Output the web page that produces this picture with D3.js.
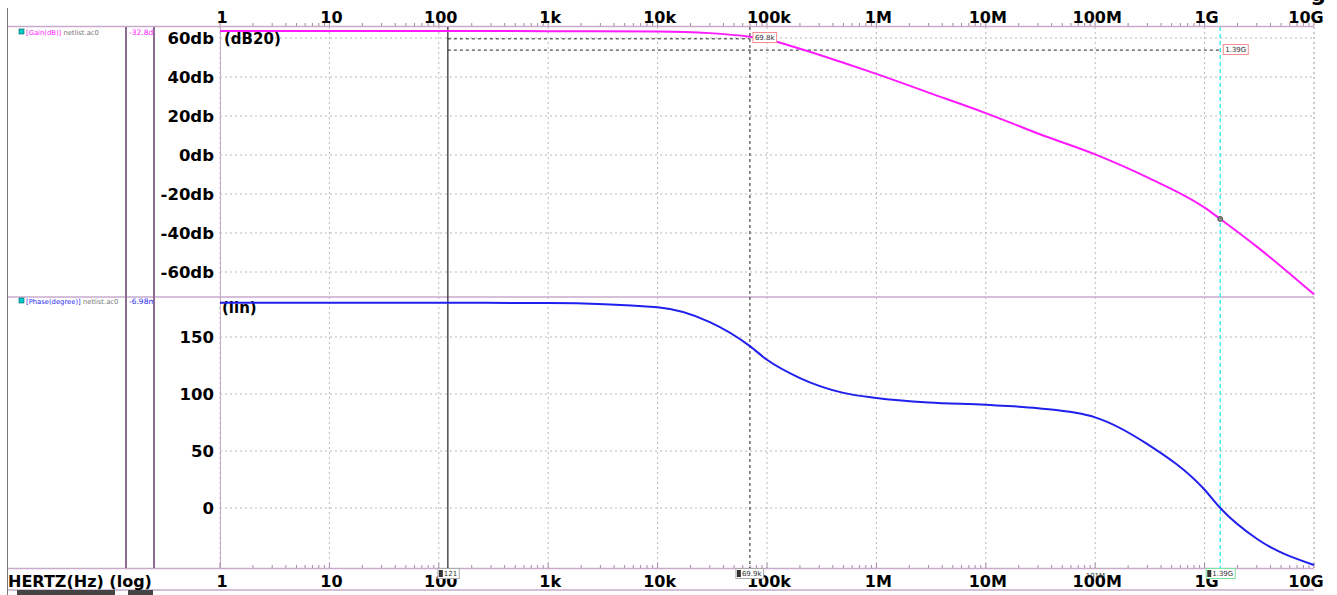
<!DOCTYPE html>
<html>
<head>
<meta charset="utf-8">
<script src="https://cdn.jsdelivr.net/npm/d3@7"></script>
<style>
  html, body { margin: 0; padding: 0; background: #fff; }
  svg { display: block; }
  text { font-family: "DejaVu Sans", sans-serif; }
</style>
</head>
<body>
<svg id="chart" width="1337" height="595"></svg>
<script>
// AC sweep of the amplifier: frequency (Hz), gain (dB) and phase (degrees)
const freqs   = [1, 10, 100, 1e3, 1e4, 3e4, 6.98e4, 1e5, 2e5, 5e5, 1e6, 3e6, 1e7, 3e7, 1e8, 3e8, 1e9, 1.39e9, 3e9, 1e10];
const gainDb  = [63.6, 63.6, 63.6, 63.5, 63.3, 62.5, 60.6, 59.2, 54.5, 47.3, 41.6, 32.0, 21.5, 11.0, 0.3, -11.5, -27.0, -32.8, -47.0, -71.5];
const phaseDeg = [180, 180, 180, 179.8, 176, 163, 142, 130, 114, 101, 96.5, 92.5, 90.5, 87.5, 79.5, 56, 16, 0, -27, -50];

// axis ticks
const decadeTicks = [1, 10, 100, 1e3, 1e4, 1e5, 1e6, 1e7, 1e8, 1e9, 1e10];
const decadeLabels = ["1", "10", "100", "1k", "10k", "100k", "1M", "10M", "100M", "1G", "10G"];
const gainTicks = [60, 40, 20, 0, -20, -40, -60];
const gainTickLabels = ["60db", "40db", "20db", "0db", "-20db", "-40db", "-60db"];
const phaseTicks = [150, 100, 50, 0];
const phaseTickLabels = ["150", "100", "50", "0"];

// cursors / markers
const cursorA = 121;          // solid cursor
const cursorB = 6.98e4;       // -3 dB cursor
const cursorC = 1.39e9;       // phase zero crossing
const refLevelC = 53.8;       // reference level line (dB)
const cursorLabels = { aBottom: "121", bTop: "69.8k", bBottom: "69.9k", cTop: "1.39G", cBottom: "1.39G", mid: "101M" };
const readoutGain = "-32.8d";
const readoutPhase = "-6.98m";

const svg = d3.select("#chart");
const W = 1337, H = 595;
const plotL = 220, plotR = 1314;
const topT = 27, topB = 297, botT = 297, botB = 568;

const x = d3.scaleLog().domain([1, 1e10]).range([plotL, plotR]);
const yGain = d3.scaleLinear().domain([0, 20]).range([155, 116]);
const yPhase = d3.scaleLinear().domain([0, 50]).range([508, 451]);

const frame = "#c9aacb";
const colLine = "#8e6b93";
const gridCol = "#b8b8b8";
const magenta = "#ff1aff";
const blue = "#1f1fee";

// clip regions for the two panels
const defs = svg.append("defs");
defs.append("clipPath").attr("id", "clipTop").append("rect")
  .attr("x", plotL).attr("y", topT).attr("width", plotR - plotL + 2).attr("height", topB - topT);
defs.append("clipPath").attr("id", "clipBot").append("rect")
  .attr("x", plotL).attr("y", botT).attr("width", plotR - plotL + 2).attr("height", botB - botT + 2);
defs.append("clipPath").attr("id", "clipVal").append("rect")
  .attr("x", 128).attr("y", 0).attr("width", 25).attr("height", H);
defs.append("clipPath").attr("id", "clipLeg").append("rect")
  .attr("x", 8).attr("y", 0).attr("width", 117).attr("height", H);

// grid: vertical decade lines
const gGrid = svg.append("g");
decadeTicks.forEach(f => {
  gGrid.append("line")
    .attr("x1", x(f)).attr("x2", x(f)).attr("y1", topT).attr("y2", botB)
    .attr("stroke", f === 1e10 ? "#999" : gridCol).attr("stroke-width", 1)
    .attr("stroke-dasharray", "2,3");
});
gainTicks.forEach(v => {
  gGrid.append("line")
    .attr("x1", plotL).attr("x2", plotR).attr("y1", yGain(v)).attr("y2", yGain(v))
    .attr("stroke", gridCol).attr("stroke-dasharray", "2,3");
});
phaseTicks.forEach(v => {
  gGrid.append("line")
    .attr("x1", plotL).attr("x2", plotR).attr("y1", yPhase(v)).attr("y2", yPhase(v))
    .attr("stroke", gridCol).attr("stroke-dasharray", "2,3");
});

// frame lines
const hl = (y, x1, x2, c, w) => svg.append("line").attr("x1", x1).attr("x2", x2).attr("y1", y).attr("y2", y).attr("stroke", c).attr("stroke-width", w || 1);
const vl = (xx, y1, y2, c, w) => svg.append("line").attr("x1", xx).attr("x2", xx).attr("y1", y1).attr("y2", y2).attr("stroke", c).attr("stroke-width", w || 1);
hl(26.5, 7, plotR, frame, 1.5);
hl(297, 7, plotR, frame, 1.5);
hl(568.5, 7, plotR, frame, 1.5);
hl(590, 7, plotR, frame, 1.5);
vl(7.5, 8, 595, "#777", 1);
vl(126, 27, 568, colLine, 2);
vl(154, 27, 568, colLine, 2);
vl(plotL + 0.5, 27, 568, frame, 1);

// minor ticks on the frequency axes
const minorG = svg.append("g");
for (let d = 0; d < 10; d++) {
  for (let m = 1; m <= 9; m++) {
    const f = m * Math.pow(10, d);
    const len = m === 1 ? 5 : 3;
    minorG.append("line").attr("x1", x(f)).attr("x2", x(f)).attr("y1", 26).attr("y2", 26 - len).attr("stroke", "#a58aa8");
    minorG.append("line").attr("x1", x(f)).attr("x2", x(f)).attr("y1", 568).attr("y2", 568 - len).attr("stroke", "#a58aa8");
  }
}
minorG.append("line").attr("x1", x(1e10)).attr("x2", x(1e10)).attr("y1", 26).attr("y2", 21).attr("stroke", "#a58aa8");
minorG.append("line").attr("x1", x(1e10)).attr("x2", x(1e10)).attr("y1", 568).attr("y2", 563).attr("stroke", "#a58aa8");

// frequency labels, top and bottom
decadeTicks.forEach((f, i) => {
  const lx = i === decadeTicks.length - 1 ? x(f) - 8 : x(f) + 2;
  svg.append("text").attr("x", lx).attr("y", 23).attr("text-anchor", "middle")
    .attr("font-size", 16).attr("font-weight", "bold").text(decadeLabels[i]);
  svg.append("text").attr("x", lx).attr("y", 587).attr("text-anchor", "middle")
    .attr("font-size", 16).attr("font-weight", "bold").text(decadeLabels[i]);
});
svg.append("text").attr("x", 8).attr("y", 587).attr("font-size", 16).attr("font-weight", "bold").text("HERTZ(Hz) (log)");

// y labels
gainTicks.forEach((v, i) => {
  svg.append("text").attr("x", 214).attr("y", yGain(v) + 6).attr("text-anchor", "end")
    .attr("font-size", 16.5).attr("font-weight", "bold").text(gainTickLabels[i]);
});
phaseTicks.forEach((v, i) => {
  svg.append("text").attr("x", 214).attr("y", yPhase(v) + 6).attr("text-anchor", "end")
    .attr("font-size", 16.5).attr("font-weight", "bold").text(phaseTickLabels[i]);
});
svg.append("text").attr("x", 224).attr("y", 44).attr("font-size", 15).attr("font-weight", "bold").text("(dB20)");
svg.append("text").attr("x", 222).attr("y", 313).attr("font-size", 15).attr("font-weight", "bold").text("(lin)");

// legend column
const legend = (y, name, color) => {
  svg.append("rect").attr("x", 19).attr("y", y - 6).attr("width", 5).attr("height", 5).attr("fill", "#0cc").attr("stroke", "#055").attr("stroke-width", 0.6);
  const t = svg.append("text").attr("x", 26).attr("y", y).attr("font-size", 6.8).attr("clip-path", "url(#clipLeg)");
  t.append("tspan").attr("fill", color).text(name);
  t.append("tspan").attr("fill", "#777").text(" netlist.ac0");
};
legend(35, "[Gain(dB)]", magenta);
legend(304, "[Phase(degree)]", blue);
svg.append("text").attr("x", 129).attr("y", 35).attr("font-size", 7.5).attr("fill", magenta).attr("clip-path", "url(#clipVal)").text(readoutGain);
svg.append("text").attr("x", 129).attr("y", 304).attr("font-size", 7.5).attr("fill", blue).attr("clip-path", "url(#clipVal)").text(readoutPhase);

// cursors
vl(x(cursorA), 27, 568, "#222", 1.2);
svg.append("line").attr("x1", x(cursorB)).attr("x2", x(cursorB)).attr("y1", 27).attr("y2", 568)
  .attr("stroke", "#222").attr("stroke-dasharray", "3,3");
svg.append("line").attr("x1", x(cursorC)).attr("x2", x(cursorC)).attr("y1", 27).attr("y2", 568)
  .attr("stroke", "#3ff0f0").attr("stroke-width", 1.5).attr("stroke-dasharray", "4,3");
svg.append("line").attr("x1", x(cursorA)).attr("x2", x(cursorB)).attr("y1", yGain(gainDb[6]) + 2).attr("y2", yGain(gainDb[6]) + 2)
  .attr("stroke", "#222").attr("stroke-dasharray", "3,3");
svg.append("line").attr("x1", x(cursorA)).attr("x2", x(cursorC)).attr("y1", yGain(refLevelC)).attr("y2", yGain(refLevelC))
  .attr("stroke", "#222").attr("stroke-dasharray", "3,3");

// curves
const gainLine = d3.line().x((d, i) => x(freqs[i])).y(d => yGain(d)).curve(d3.curveMonotoneX);
const phaseLine = d3.line().x((d, i) => x(freqs[i])).y(d => yPhase(d)).curve(d3.curveMonotoneX);
svg.append("path").attr("d", gainLine(gainDb)).attr("fill", "none").attr("stroke", magenta).attr("stroke-width", 2).attr("clip-path", "url(#clipTop)");
svg.append("path").attr("d", phaseLine(phaseDeg)).attr("fill", "none").attr("stroke", blue).attr("stroke-width", 2).attr("clip-path", "url(#clipBot)");

// point marker on gain curve at cursor C
svg.append("circle").attr("cx", x(cursorC)).attr("cy", yGain(gainDb[17])).attr("r", 2.5)
  .attr("fill", "#888").attr("stroke", "#444").attr("stroke-width", 0.8);

// cursor tags
const tag = (tx, ty, label, border, icon) => {
  const g = svg.append("g");
  const t = g.append("text").attr("x", tx + (icon ? 6 : 2)).attr("y", ty).attr("font-size", 7).attr("fill", "#333").text(label);
  const w = t.node().getComputedTextLength() + (icon ? 8 : 4);
  g.insert("rect", "text").attr("x", tx).attr("y", ty - 7.5).attr("width", w).attr("height", 10)
    .attr("fill", "#fff").attr("stroke", border).attr("stroke-width", 1);
  if (icon) g.append("rect").attr("x", tx + 1).attr("y", ty - 6).attr("width", 4).attr("height", 7).attr("fill", "#333");
};
tag(x(cursorB) + 3, 40, cursorLabels.bTop, "#f09090", false);
tag(x(cursorC) + 3, 52, cursorLabels.cTop, "#f09090", false);
tag(x(cursorA) - 10, 576, cursorLabels.aBottom, "#aaa", true);
tag(x(cursorB) - 14, 576, cursorLabels.bBottom, "#aaa", true);
tag(x(cursorC) - 14, 576, cursorLabels.cBottom, "#7fe0a0", true);
svg.append("text").attr("x", x(1.01e8) - 10).attr("y", 578).attr("font-size", 7).attr("fill", "#333").text(cursorLabels.mid);

// title fragment at the upper edge
svg.append("text").attr("x", 1318).attr("y", 1).attr("text-anchor", "middle").attr("font-size", 22)
  .attr("font-weight", "bold").attr("font-family", "DejaVu Serif, serif").text("g");

// scrollbars
svg.append("rect").attr("x", 17).attr("y", 590).attr("width", 98).attr("height", 5).attr("fill", "#444");
svg.append("rect").attr("x", 128).attr("y", 590).attr("width", 25).attr("height", 5).attr("fill", "#444");
</script>
</body>
</html>
